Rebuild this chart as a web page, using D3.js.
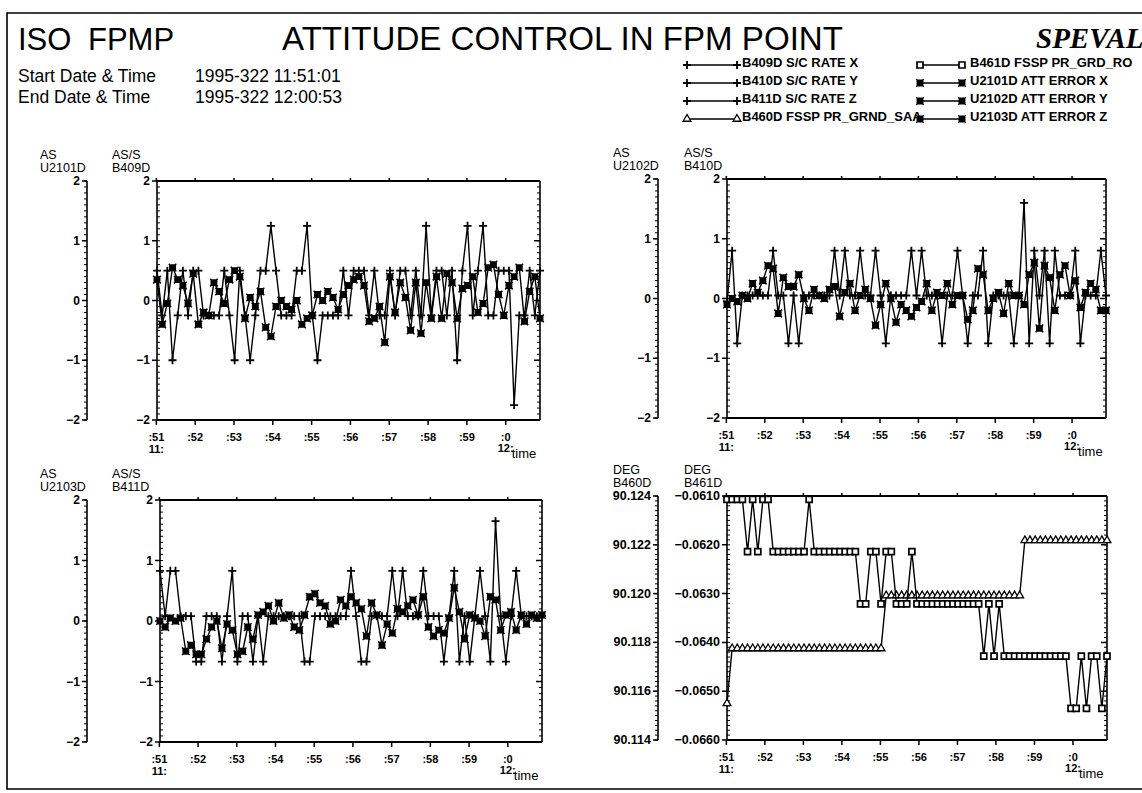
<!DOCTYPE html>
<html>
<head>
  <meta charset="utf-8">
  <title>ISO FPMP Attitude control in FPM point</title>
  <script src="https://d3js.org/d3.v7.min.js"></script>
  <style>
    body { margin: 0; background: #fff; }
    svg text { font-family: "Liberation Sans", Arial, Helvetica, sans-serif; fill: #000; }
    .tick { font-weight: bold; }
  </style>
</head>
<body>
  <svg id="chart" width="1142" height="793"></svg>
  <script>
    // ---- data (one sample every 8 s) ----
    const startTime = "1995-322 11:51:01";
    const endTime = "1995-322 12:00:53";
    const sampleStep = 8;

    const minuteTimes = ["11:51", "11:52", "11:53", "11:54", "11:55", "11:56", "11:57", "11:58", "11:59", "12:00"];
    const minuteLabels = [":51", ":52", ":53", ":54", ":55", ":56", ":57", ":58", ":59", ":0"];

    const rateTicks = [-2, -1, 0, 1, 2];
    const saaTicks = [90.114, 90.116, 90.118, 90.120, 90.122, 90.124];
    const rollTicks = [-0.0660, -0.0650, -0.0640, -0.0630, -0.0620, -0.0610];

    // B409D S/C RATE X
    const rateX = [0.5, -0.25, 0.5, -1.0, -0.25, 0.5, -0.25, 0.5, 0.5, -0.25,
      -0.25, -0.25, -0.25, 0.5, -0.25, -1.0, 0.5, -0.25, -1.0, -0.25,
      0.5, 0.5, 1.25, 0.5, -0.25, -0.25, -0.25, 0.5, 0.5, 1.25,
      -0.25, -1.0, -0.25, -0.25, -0.25, -0.25, 0.5, -0.25, 0.5, 0.5,
      0.5, -0.25, 0.5, -0.25, -0.25, 0.5, -0.25, 0.5, 0.5, -0.25,
      0.5, -0.25, 1.25, -0.25, 0.5, 0.5, -0.25, 0.5, -1.0, 0.5,
      1.25, -0.25, 0.5, 1.25, -0.25, -0.25, 0.5, 0.5, 0.5, -1.75,
      -0.25, -0.25, 0.5, -0.25, 0.5];
    // U2101D ATT ERROR X
    const attErrX = [0.35, -0.4, -0.05, 0.55, 0.35, 0.25, -0.05, 0.45, -0.4, -0.2,
      -0.25, 0.3, 0.15, -0.05, 0.35, 0.5, 0.4, -0.3, 0.05, -0.1,
      0.15, -0.45, -0.6, -0.1, 0.0, -0.1, -0.15, 0.0, -0.4, -0.3,
      -0.25, 0.1, 0.0, 0.15, 0.05, -0.15, 0.1, 0.25, 0.35, 0.4,
      0.25, -0.35, -0.3, -0.1, -0.7, 0.4, -0.2, 0.3, 0.05, -0.5,
      0.3, -0.55, 0.3, -0.3, 0.4, -0.3, 0.45, 0.3, -0.3, 0.2,
      0.25, 0.4, -0.2, -0.05, 0.55, 0.6, 0.1, -0.25, 0.25, 0.4,
      0.55, -0.35, 0.15, 0.4, -0.3];
    // B410D S/C RATE Y
    const rateY = [-0.05, 0.8, -0.75, 0.05, 0.05, 0.05, 0.05, 0.05, 0.05, 0.8,
      0.05, 0.05, -0.75, 0.05, -0.75, 0.05, 0.05, 0.05, 0.05, 0.05,
      0.05, 0.8, 0.05, 0.8, 0.05, 0.05, 0.8, 0.05, 0.05, 0.8,
      0.05, -0.75, 0.05, 0.05, 0.05, 0.05, 0.8, 0.05, 0.8, 0.05,
      0.05, 0.05, -0.75, 0.05, 0.05, 0.8, 0.05, -0.75, 0.05, 0.05,
      0.8, -0.75, 0.05, 0.05, 0.05, 0.05, -0.75, 0.05, 1.6, -0.75,
      0.8, 0.05, 0.8, -0.75, 0.8, 0.05, 0.05, 0.05, 0.8, -0.75,
      0.05, 0.05, 0.05, 0.8, 0.05];
    // U2102D ATT ERROR Y
    const attErrY = [-0.1, 0.0, -0.05, 0.05, 0.0, 0.25, 0.1, 0.3, 0.55, 0.5,
      -0.25, 0.35, 0.2, 0.2, 0.4, 0.0, -0.2, 0.15, 0.05, 0.0,
      0.15, 0.2, -0.3, 0.1, 0.25, -0.2, 0.05, 0.15, 0.0, -0.45,
      -0.1, 0.25, 0.0, -0.4, -0.1, -0.2, -0.3, -0.15, -0.05, 0.25,
      -0.2, 0.1, 0.05, 0.25, -0.1, 0.05, 0.05, -0.35, -0.2, 0.5,
      0.4, -0.2, 0.0, 0.1, -0.25, 0.25, 0.05, 0.05, -0.1, 0.4,
      0.6, -0.5, 0.55, 0.35, -0.2, 0.4, 0.55, 0.05, 0.3, -0.15,
      0.1, 0.25, 0.15, -0.2, -0.2];
    // B411D S/C RATE Z
    const rateZ = [0.83, 0.08, 0.83, 0.83, 0.08, 0.08, 0.08, -0.67, -0.67, 0.08,
      0.08, 0.08, -0.67, 0.08, 0.83, -0.67, 0.08, 0.08, -0.67, 0.08,
      -0.67, 0.08, 0.08, 0.08, 0.08, 0.08, 0.08, 0.08, -0.67, -0.67,
      0.08, 0.08, 0.08, 0.08, 0.08, 0.08, 0.08, 0.83, 0.08, -0.67,
      -0.67, 0.08, 0.08, 0.08, 0.08, 0.83, 0.08, 0.83, 0.08, 0.08,
      0.08, 0.83, 0.08, 0.08, 0.08, -0.67, 0.08, 0.83, -0.67, 0.08,
      -0.67, 0.08, 0.83, 0.08, -0.67, 1.65, 0.08, -0.67, 0.08, 0.83,
      0.08, 0.08, 0.08, 0.08, 0.08];
    // U2103D ATT ERROR Z
    const attErrZ = [0.0, -0.1, 0.05, 0.0, 0.05, -0.5, -0.4, -0.55, -0.55, -0.3,
      -0.1, 0.0, -0.45, -0.05, -0.15, -0.55, -0.5, -0.1, -0.3, 0.1,
      0.15, 0.25, 0.0, 0.3, 0.05, 0.1, -0.1, -0.15, 0.1, 0.4,
      0.45, 0.3, 0.25, -0.05, 0.0, 0.35, 0.25, 0.4, 0.3, 0.2,
      -0.25, 0.3, 0.1, -0.4, -0.05, -0.2, 0.2, 0.15, 0.25, 0.35,
      0.1, 0.4, -0.1, -0.25, -0.15, -0.2, 0.05, 0.55, 0.15, -0.3,
      0.1, 0.05, 0.0, -0.25, 0.4, 0.35, -0.15, 0.1, 0.15, -0.15,
      0.1, -0.05, 0.1, 0.05, 0.1];
    // B460D FSSP PR_GRND_SAA (deg)
    const saaAngle = [90.1155, 90.11775, 90.11775, 90.11775, 90.11775, 90.11775, 90.11775, 90.11775, 90.11775, 90.11775,
      90.11775, 90.11775, 90.11775, 90.11775, 90.11775, 90.11775, 90.11775, 90.11775, 90.11775, 90.11775,
      90.11775, 90.11775, 90.11775, 90.11775, 90.11775, 90.11775, 90.11775, 90.11775, 90.11775, 90.11775,
      90.11775, 90.11992, 90.11992, 90.11992, 90.11992, 90.11992, 90.11992, 90.11992, 90.11992, 90.11992,
      90.11992, 90.11992, 90.11992, 90.11992, 90.11992, 90.11992, 90.11992, 90.11992, 90.11992, 90.11992,
      90.11992, 90.11992, 90.11992, 90.11992, 90.11992, 90.11992, 90.11992, 90.11992, 90.12218, 90.12218,
      90.12218, 90.12218, 90.12218, 90.12218, 90.12218, 90.12218, 90.12218, 90.12218, 90.12218, 90.12218,
      90.12218, 90.12218, 90.12218, 90.12218, 90.12218];
    // B461D FSSP PR_GRD_ROLL (deg)
    const rollAngle = [-0.06107, -0.06107, -0.06107, -0.06107, -0.06214, -0.06107, -0.06214, -0.06107, -0.06107, -0.06214,
      -0.06214, -0.06214, -0.06214, -0.06214, -0.06214, -0.06214, -0.06107, -0.06214, -0.06214, -0.06214,
      -0.06214, -0.06214, -0.06214, -0.06214, -0.06214, -0.06214, -0.06321, -0.06321, -0.06214, -0.06214,
      -0.06321, -0.06214, -0.06214, -0.06321, -0.06321, -0.06321, -0.06214, -0.06321, -0.06321, -0.06321,
      -0.06321, -0.06321, -0.06321, -0.06321, -0.06321, -0.06321, -0.06321, -0.06321, -0.06321, -0.06321,
      -0.06428, -0.06321, -0.06428, -0.06321, -0.06428, -0.06428, -0.06428, -0.06428, -0.06428, -0.06428,
      -0.06428, -0.06428, -0.06428, -0.06428, -0.06428, -0.06428, -0.06428, -0.06535, -0.06535, -0.06428,
      -0.06535, -0.06428, -0.06428, -0.06535, -0.06428];

    // ---- setup ----
    const svg = d3.select("#chart");
    const parseT = d3.utcParse("%Y-%j %H:%M:%S");
    const parseM = d3.utcParse("%Y-%j %H:%M");
    const t0 = parseT(startTime), t1 = parseT(endTime);
    const times = rateX.map((d, i) => new Date(t0.getTime() + i * sampleStep * 1000));
    const minuteDates = minuteTimes.map(m => parseM("1995-322 " + m));

    const markers = {
      plus: { d: "M-4,0H4M0,-4V4", fill: "none", sw: 1.8 },
      xsq: { d: "M-2.7,-2.7h5.4v5.4h-5.4zM-3.8,-3.8L3.8,3.8M-3.8,3.8L3.8,-3.8", fill: "#000", sw: 1.5 },
      tri: { d: d3.symbol(d3.symbolTriangle, 26)(), fill: "#fff", sw: 1.3 },
      sq: { d: "M-3,-3h6v6h-6z", fill: "#fff", sw: 1.7 }
    };

    // outer frame of the sheet
    svg.append("path")
      .attr("d", "M1142,13H7V789H1142")
      .attr("fill", "none").attr("stroke", "#000").attr("stroke-width", 1.6);

    // ---- header ----
    const head = svg.append("g");
    head.append("text").attr("x", 18).attr("y", 50).style("font-size", "31px").text("ISO");
    head.append("text").attr("x", 88).attr("y", 50).style("font-size", "31px").text("FPMP");
    head.append("text").attr("x", 282).attr("y", 50).style("font-size", "33px")
      .attr("textLength", 561).attr("lengthAdjust", "spacingAndGlyphs")
      .text("ATTITUDE CONTROL IN FPM POINT");
    head.append("text").attr("x", 1036).attr("y", 48)
      .style("font-family", "'Liberation Serif', 'Times New Roman', serif")
      .style("font-style", "italic").style("font-weight", "bold").style("font-size", "29px")
      .text("SPEVAL");
    head.append("text").attr("x", 18).attr("y", 82).style("font-size", "17.5px").text("Start Date & Time");
    head.append("text").attr("x", 195).attr("y", 82).style("font-size", "17.5px").text(startTime);
    head.append("text").attr("x", 18).attr("y", 103).style("font-size", "17.5px").text("End Date & Time");
    head.append("text").attr("x", 195).attr("y", 103).style("font-size", "17.5px").text(endTime);

    // ---- legend ----
    const legendRows = [
      { col: 0, name: "B409D S/C RATE X", m: "plus" },
      { col: 0, name: "B410D S/C RATE Y", m: "plus" },
      { col: 0, name: "B411D S/C RATE Z", m: "plus" },
      { col: 0, name: "B460D FSSP PR_GRND_SAA", m: "tri" },
      { col: 1, name: "B461D FSSP PR_GRD_RO", m: "sq" },
      { col: 1, name: "U2101D ATT ERROR X", m: "xsq" },
      { col: 1, name: "U2102D ATT ERROR Y", m: "xsq" },
      { col: 1, name: "U2103D ATT ERROR Z", m: "xsq" }
    ];
    const legCols = [{ a: 687, b: 737, tx: 742 }, { a: 920, b: 962, tx: 970 }];
    const leg = svg.append("g");
    legendRows.forEach((r, i) => {
      const c = legCols[r.col];
      const y = 62 + (i % 4) * 18;
      leg.append("line").attr("x1", c.a).attr("x2", c.b).attr("y1", y + 3).attr("y2", y + 3)
        .attr("stroke", "#000").attr("stroke-width", 1.5);
      [c.a, c.b].forEach(xx => {
        const mk = markers[r.m];
        leg.append("path").attr("d", mk.d).attr("transform", `translate(${xx},${y + 3})`)
          .attr("fill", mk.fill).attr("stroke", "#000").attr("stroke-width", mk.sw);
      });
      leg.append("text").attr("x", c.tx).attr("y", y + 5)
        .style("font-size", "13px").style("font-weight", "bold").text(r.name);
    });

    // ---- panels ----
    const fmtRate = d3.format("d");
    const panels = [
      {
        x0: 157, x1: 540, y0: 181, y1: 420, ax: 87, lx1: 40, lx2: 112,
        labels: [["AS", "U2101D"], ["AS/S", "B409D"]],
        auxDomain: [-2, 2], mainDomain: [-2, 2], auxTicks: rateTicks, mainTicks: rateTicks,
        auxFmt: fmtRate, mainFmt: fmtRate, minor: 0.1, fs: 12,
        series: [{ v: rateX, m: "plus", axis: "main" }, { v: attErrX, m: "xsq", axis: "aux" }]
      },
      {
        x0: 727, x1: 1106, y0: 179, y1: 418, ax: 658, lx1: 613, lx2: 684,
        labels: [["AS", "U2102D"], ["AS/S", "B410D"]],
        auxDomain: [-2, 2], mainDomain: [-2, 2], auxTicks: rateTicks, mainTicks: rateTicks,
        auxFmt: fmtRate, mainFmt: fmtRate, minor: 0.1, fs: 12,
        series: [{ v: rateY, m: "plus", axis: "main" }, { v: attErrY, m: "xsq", axis: "aux" }]
      },
      {
        x0: 160, x1: 542, y0: 500, y1: 742, ax: 87, lx1: 40, lx2: 112,
        labels: [["AS", "U2103D"], ["AS/S", "B411D"]],
        auxDomain: [-2, 2], mainDomain: [-2, 2], auxTicks: rateTicks, mainTicks: rateTicks,
        auxFmt: fmtRate, mainFmt: fmtRate, minor: 0.1, fs: 12,
        series: [{ v: rateZ, m: "plus", axis: "main" }, { v: attErrZ, m: "xsq", axis: "aux" }]
      },
      {
        x0: 727, x1: 1107, y0: 496, y1: 740, ax: 658, lx1: 613, lx2: 684,
        labels: [["DEG", "B460D"], ["DEG", "B461D"]],
        auxDomain: [90.114, 90.124], mainDomain: [-0.0660, -0.0610], auxTicks: saaTicks, mainTicks: rollTicks,
        auxFmt: d3.format(".3f"), mainFmt: d3.format(".4f"), minor: 0.0001, auxMinor: 0.0002, fs: 12.5,
        series: [{ v: saaAngle, m: "tri", axis: "aux" }, { v: rollAngle, m: "sq", axis: "main" }]
      }
    ];

    panels.forEach(p => {
      const g = svg.append("g");
      const x = d3.scaleUtc().domain([t0, t1]).range([p.x0, p.x1]);
      const yMain = d3.scaleLinear().domain(p.mainDomain).range([p.y1, p.y0]);
      const yAux = d3.scaleLinear().domain(p.auxDomain).range([p.y1, p.y0]);

      // unit / mnemonic labels
      [p.lx1, p.lx2].forEach((lx, k) => {
        g.append("text").attr("x", lx).attr("y", p.y0 - 22).style("font-size", "12.5px").text(p.labels[k][0]);
        g.append("text").attr("x", lx).attr("y", p.y0 - 9).style("font-size", "12.5px").text(p.labels[k][1]);
      });

      // plot box
      g.append("line").attr("x1", p.x0).attr("x2", p.x1).attr("y1", p.y0).attr("y2", p.y0)
        .attr("stroke", "#000").attr("stroke-width", 2);
      g.append("line").attr("x1", p.x0).attr("x2", p.x1).attr("y1", p.y1).attr("y2", p.y1)
        .attr("stroke", "#000").attr("stroke-width", 2);
      [p.x0, p.x1].forEach(xx => g.append("line").attr("x1", xx).attr("x2", xx)
        .attr("y1", p.y0).attr("y2", p.y1).attr("stroke", "#000").attr("stroke-width", 1.6));

      // minor ticks, main axis (left and right of box)
      const [mlo, mhi] = p.mainDomain;
      const minorVals = d3.range(Math.round((mhi - mlo) / p.minor) + 1).map(k => mlo + k * p.minor);
      g.selectAll(null).data(minorVals).join("path")
        .attr("d", v => `M${p.x0},${yMain(v)}h3M${p.x1},${yMain(v)}h-3`)
        .attr("stroke", "#000").attr("stroke-width", 1);
      // major ticks
      g.selectAll(null).data(p.mainTicks).join("path")
        .attr("d", v => `M${p.x0 - 5},${yMain(v)}H${p.x0}M${p.x1},${yMain(v)}h-6`)
        .attr("stroke", "#000").attr("stroke-width", 1.5);
      g.selectAll(null).data(p.mainTicks).join("text").attr("class", "tick")
        .attr("x", p.x0 - 7).attr("y", v => yMain(v) + 4).attr("text-anchor", "end")
        .style("font-size", p.fs + "px").text(v => p.mainFmt(v));

      // auxiliary (left) axis
      const [alo, ahi] = p.auxDomain;
      const aStep = p.auxMinor || p.minor;
      const auxMinor = d3.range(Math.round((ahi - alo) / aStep) + 1).map(k => alo + k * aStep);
      g.append("line").attr("x1", p.ax).attr("x2", p.ax).attr("y1", p.y0).attr("y2", p.y1)
        .attr("stroke", "#000").attr("stroke-width", 1.6);
      g.selectAll(null).data(auxMinor).join("path")
        .attr("d", v => `M${p.ax},${yAux(v)}h-3`)
        .attr("stroke", "#000").attr("stroke-width", 1);
      g.selectAll(null).data(p.auxTicks).join("path")
        .attr("d", v => `M${p.ax - 5},${yAux(v)}H${p.ax}`)
        .attr("stroke", "#000").attr("stroke-width", 1.5);
      g.selectAll(null).data(p.auxTicks).join("text").attr("class", "tick")
        .attr("x", p.ax - 7).attr("y", v => yAux(v) + 4).attr("text-anchor", "end")
        .style("font-size", p.fs + "px").text(v => p.auxFmt(v));

      // time ticks
      g.selectAll(null).data(minuteDates).join("path")
        .attr("d", d => `M${x(d)},${p.y0}v-3M${x(d)},${p.y1}v5`)
        .attr("stroke", "#000").attr("stroke-width", 1.5);
      g.selectAll(null).data(minuteLabels).join("text").attr("class", "tick")
        .attr("x", (d, i) => x(minuteDates[i])).attr("y", p.y1 + 21)
        .attr("text-anchor", "middle").style("font-size", "11px").text(d => d);
      g.append("text").attr("class", "tick").attr("x", x(minuteDates[0])).attr("y", p.y1 + 33)
        .attr("text-anchor", "middle").style("font-size", "11px").text("11:");
      const xEnd = x(minuteDates[minuteDates.length - 1]);
      g.append("text").attr("class", "tick").attr("x", xEnd).attr("y", p.y1 + 32)
        .attr("text-anchor", "middle").style("font-size", "11px").text("12:");
      g.append("text").attr("x", xEnd + 6).attr("y", p.y1 + 38).style("font-size", "13px").text("time");

      // series
      p.series.forEach(s => {
        const y = s.axis === "main" ? yMain : yAux;
        const line = d3.line().x((d, i) => x(times[i])).y(d => y(d));
        g.append("path").datum(s.v).attr("d", line)
          .attr("fill", "none").attr("stroke", "#000").attr("stroke-width", 1.4);
        const mk = markers[s.m];
        g.selectAll(null).data(s.v).join("path")
          .attr("d", mk.d)
          .attr("transform", (d, i) => `translate(${x(times[i])},${y(d)})`)
          .attr("fill", mk.fill).attr("stroke", "#000").attr("stroke-width", mk.sw);
      });
    });
  </script>
</body>
</html>
